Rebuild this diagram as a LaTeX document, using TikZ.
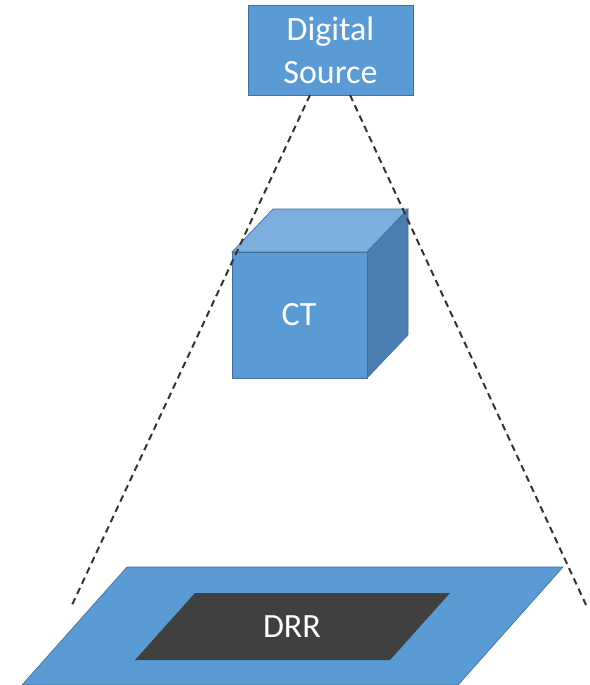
\documentclass[tikz,border=0pt]{standalone}
\usepackage{fontspec}
\setmainfont{Carlito}
\usepackage{tikz}
\definecolor{boxblue}{HTML}{5B9BD5}
\definecolor{edgeblue}{HTML}{41719C}
\definecolor{topblue}{HTML}{7DAFDE}
\definecolor{sideblue}{HTML}{4A7DB0}
\definecolor{drrgray}{HTML}{404040}

\begin{document}
\begin{tikzpicture}[x=0.75pt, y=-0.75pt,
    txt/.style={text=white, font=\fontsize{25.5}{32}\selectfont, align=center, inner sep=0pt},
    beam/.style={dash pattern=on 5pt off 3.5pt, line width=1.5pt, black!80}]
     \useasboundingbox (0,0) rectangle (589,685);

     % detector plane
     \filldraw[fill=boxblue, draw=edgeblue, line width=0.5pt] (127,567) -- (563,567) -- (458,685) -- (22,685) -- cycle;
     \fill[drrgray] (195,593) -- (450,593) -- (390,660) -- (135,660) -- cycle;
     \node[txt] (drr) at (292,627) {DRR};

     % CT volume
     \filldraw[fill=topblue, draw=edgeblue, line width=0.5pt] (232,252) -- (273,209) -- (408,209) -- (367,252) -- cycle;
     \filldraw[fill=sideblue, draw=edgeblue, line width=0.5pt] (367,252) -- (408,209) -- (408,335) -- (367,378) -- cycle;
     \filldraw[fill=boxblue, draw=edgeblue, line width=0.5pt] (232,252) rectangle (367,378);
     \node[txt] (ct) at (299,315) {CT};

     % source
     \node[txt, fill=boxblue, draw=edgeblue, line width=0.5pt,
           minimum width=123.75pt, minimum height=67.5pt] (source) at (330.5,50) {Digital\\Source};

     \coordinate (beamL) at (310,95);
     \coordinate (beamR) at (350,95);
     \coordinate (endL) at (72,605);
     \coordinate (endR) at (587,607);

     \draw[beam] (beamL) -- (endL);
     \draw[beam] (beamR) -- (endR);
\end{tikzpicture}
\end{document}
